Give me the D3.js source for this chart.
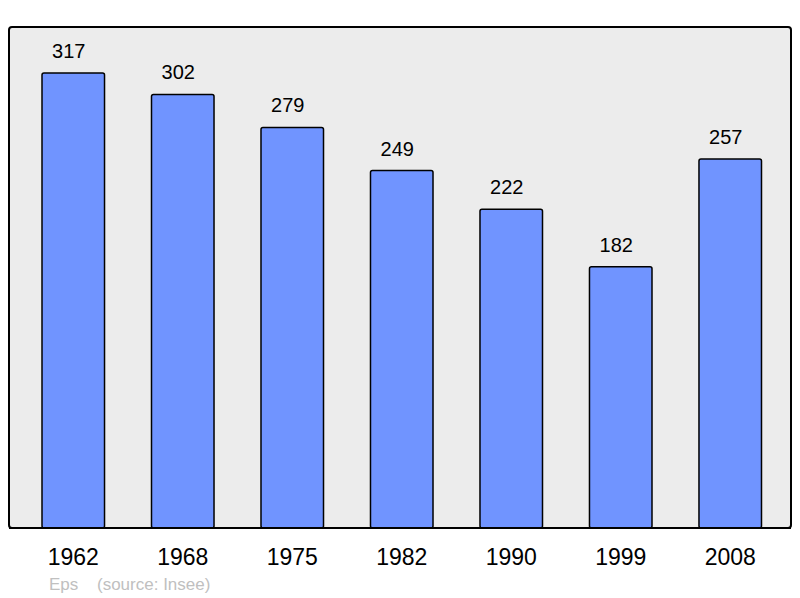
<!DOCTYPE html>
<html>
<head>
<meta charset="utf-8">
<script src="https://cdn.jsdelivr.net/npm/d3@7"></script>
<style>
  body { margin: 0; background: #fff; }
  text { font-family: "Liberation Sans", Arial, sans-serif; }
</style>
</head>
<body>
<div id="chart"></div>
<script>
var years = ["1962", "1968", "1975", "1982", "1990", "1999", "2008"];
var population = [317, 302, 279, 249, 222, 182, 257];
var commune = "Eps";
var sourceNote = "(source: Insee)";

var width = 800, height = 598;
var panel = { left: 9, top: 27, right: 791, bottom: 528 };

var svg = d3.select("#chart")
    .append("svg")
        .attr("width", width)
        .attr("height", height);

// background panel
svg.append("rect")
    .attr("x", panel.left)
    .attr("y", panel.top)
    .attr("width", panel.right - panel.left)
    .attr("height", panel.bottom - panel.top)
    .attr("rx", 3)
    .style("fill", "#ececec")
    .style("stroke", "#000")
    .style("stroke-width", 2);

var x = d3.scaleBand()
    .domain(years)
    .range([9, 794.5])
    .paddingInner(0.429)
    .paddingOuter(0.3014);

var y = d3.scaleLinear()
    .domain([0, 349])
    .range([panel.bottom, panel.top]);

svg.selectAll("rect.bar")
    .data(years)
    .enter()
    .append("rect")
        .attr("class", "bar")
        .attr("x", function(d){ return x(d); })
        .attr("y", function(d, i){ return y(population[i]); })
        .attr("width", x.bandwidth())
        .attr("height", function(d, i){ return panel.bottom - y(population[i]); })
        .attr("rx", 2)
        .style("fill", "#7094ff")
        .style("stroke", "#000")
        .style("stroke-width", 1.5);

// redraw bottom edge of panel over bars
svg.append("line")
    .attr("x1", panel.left)
    .attr("x2", panel.right)
    .attr("y1", panel.bottom)
    .attr("y2", panel.bottom)
    .style("stroke", "#000")
    .style("stroke-width", 2);

svg.selectAll("text.value")
    .data(years)
    .enter()
    .append("text")
        .attr("class", "value")
        .attr("x", function(d){ return x(d) + x.bandwidth() / 2 - 4.5; })
        .attr("y", function(d, i){ return y(population[i]) - 15; })
        .attr("text-anchor", "middle")
        .attr("font-size", "20px")
        .style("fill", "#000")
        .text(function(d, i){ return population[i]; });

var xAxis = svg.append("g")
    .attr("transform", "translate(0," + panel.bottom + ")")
    .call(d3.axisBottom(x).tickSize(0).tickPadding(0));
xAxis.select(".domain").remove();
xAxis.selectAll("text")
    .attr("y", 37)
    .attr("dy", 0)
    .attr("font-size", "23px")
    .style("font-family", "'Liberation Sans', Arial, sans-serif")
    .style("fill", "#000");

svg.append("text")
    .attr("x", 49)
    .attr("y", 590)
    .attr("font-size", "17px")
    .style("fill", "#c0c0c0")
    .text(commune);

svg.append("text")
    .attr("x", 97)
    .attr("y", 590)
    .attr("font-size", "17px")
    .style("fill", "#c0c0c0")
    .text(sourceNote);
</script>
</body>
</html>
